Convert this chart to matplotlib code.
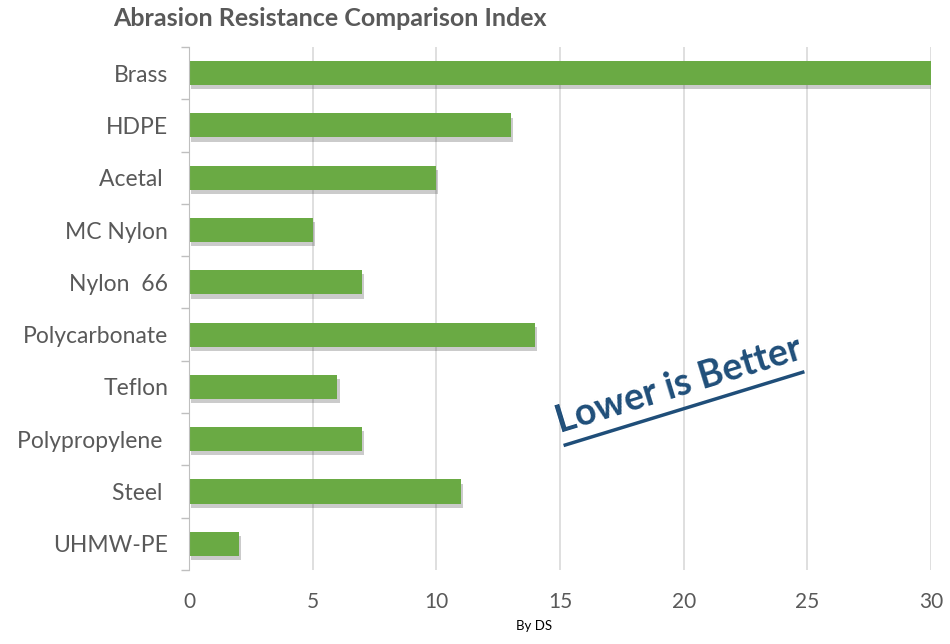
import matplotlib
matplotlib.use("Agg")
import matplotlib.pyplot as plt
import matplotlib.patheffects as pe
from matplotlib.lines import Line2D
import numpy as np

plt.rcParams['font.family'] = ['Lato', 'DejaVu Sans']

# Data
materials = ['Brass', 'HDPE', 'Acetal ', 'MC Nylon', 'Nylon  66', 'Polycarbonate',
             'Teflon', 'Polypropylene ', 'Steel ', 'UHMW-PE']
index_values = [30, 13, 10, 5, 7, 14, 6, 7, 11, 2]
x_ticks = [0, 5, 10, 15, 20, 25, 30]

grey = '#595959'
green = '#6aaa44'

fig = plt.figure(figsize=(9.5, 6.44), dpi=100)
ax = fig.add_axes([0.199, 0.115, 0.781, 0.812])

y = np.arange(len(materials))
bars = ax.barh(y, index_values, height=0.46, color=green, zorder=3)
for b in bars:
    b.set_path_effects([pe.SimplePatchShadow(offset=(1.5, -3), alpha=0.25, shadow_rgbFace='#333333'),
                        pe.Normal()])

ax.set_ylim(len(materials) - 0.5, -0.5)
ax.set_xlim(0, 30)
ax.set_yticks(y)
ax.set_yticklabels(materials, fontsize=16.5, color=grey)
ax.set_yticks(np.arange(-0.5, len(materials), 1), minor=True)
ax.tick_params(axis='y', which='major', length=0, pad=15)
ax.tick_params(axis='y', which='minor', length=6, color='#bfbfbf', width=1)
ax.set_xticks(x_ticks)
ax.set_xticklabels([str(t) for t in x_ticks], fontsize=15, color=grey)
ax.tick_params(axis='x', length=0, pad=16)

ax.grid(axis='x', color='#d9d9d9', linewidth=1.2, zorder=0)
for s in ['top', 'right', 'bottom']:
    ax.spines[s].set_visible(False)
ax.spines['left'].set_color('#bfbfbf')
ax.spines['left'].set_zorder(4)

fig.text(0.119, 0.972, 'Abrasion Resistance Comparison Index', fontsize=18,
         fontweight='bold', color=grey, ha='left', va='center')
fig.text(0.562, 0.028, 'By DS', fontsize=9.5, color='black', ha='center', va='center')

# "Lower is Better" annotation with underline
fig.text(0.589, 0.328, 'Lower is Better', fontsize=27, fontweight='bold',
         color='#1f4e79', rotation=17, rotation_mode='anchor', ha='left', va='baseline')
fig.add_artist(Line2D([0.595, 0.845], [0.309, 0.422], color='#1f4e79',
                      linewidth=2.5, transform=fig.transFigure))

fig.savefig('out.png', dpi=100)
